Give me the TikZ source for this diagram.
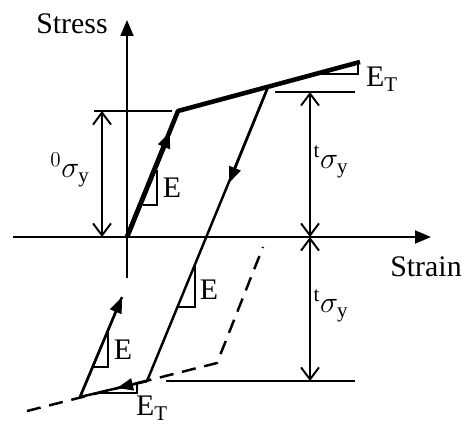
\documentclass[tikz,border=0pt]{standalone}
\usepackage{fontspec}
\setmainfont{Liberation Serif}
\usepackage{tikz}
\usetikzlibrary{arrows.meta}

\begin{document}
\begin{tikzpicture}[
  x=0.02cm,y=-0.02cm,
  every node/.style={font=\fontsize{17}{20}\selectfont,inner sep=1pt},
  axis/.style={line width=1.1pt,-{Triangle[length=3.2mm,width=2.6mm]}},
  curve/.style={line width=2.6pt,line join=round},
  unload/.style={line width=1.4pt,line join=round},
  midtip/.style={-{Triangle[length=3.2mm,width=2.4mm]}},
  dimline/.style={line width=1.1pt,{Straight Barb[length=2.4mm,width=3.6mm]}-{Straight Barb[length=2.4mm,width=3.6mm]}},
  bar/.style={line width=1.1pt},
  slope/.style={line width=0.9pt},
  backpath/.style={line width=1.4pt,dash pattern=on 8pt off 5pt}
]
\useasboundingbox (0,0) rectangle (462,425);

% axes
\coordinate (sBot) at (127,278);
\coordinate (sTop) at (127,20);
\coordinate (eLeft) at (13,237);
\coordinate (eRight) at (431,237);
\draw[axis] (sBot) -- (sTop);
\draw[axis] (eLeft) -- (eRight);
\node (stress) at (72,24) {Stress};
\node (strain) at (426,267) {Strain};

% hardening path
\coordinate (O) at (127,237);
\coordinate (Y0) at (178,111);
\coordinate (P) at (268,87);
\coordinate (H) at (360,62);
\coordinate (U) at (147,381);
\coordinate (L) at (80,397);
\coordinate (R) at (122,297);
\coordinate (upTip) at (170,132);
\coordinate (downTip) at (229,183);
\coordinate (leftTip) at (117,388);
\draw[curve] (O) -- (Y0) -- (H);
\draw[curve,midtip] (O) -- (upTip);
\draw[unload] (P) -- (U) -- (L) -- (R);
\draw[unload,midtip] (P) -- (downTip);
\draw[unload,midtip] (U) -- (leftTip);
\draw[unload,midtip] (L) -- (R);

% mirrored yield path
\coordinate (D0) at (27,411);
\coordinate (D1) at (217,363);
\coordinate (D2) at (263,247);
\draw[backpath] (D0) -- (D1) -- (D2);

% slope marks
\draw[slope] (143,205) -- (157,205) -- (157,170);
\node (eA) at (172,188) {E};
\draw[slope] (178,307) -- (195,307) -- (195,266);
\node (eB) at (209,290) {E};
\draw[slope] (93,367) -- (108,367) -- (108,331);
\node (eC) at (123,350) {E};
\draw[slope] (316,74) -- (358,74) -- (358,63);
\node[anchor=west] (etA) at (364,79) {E$_{\mathrm{T}}$};
\draw[slope] (97,393) -- (137,393) -- (137,384);
\node[anchor=west] (etB) at (134,408) {E$_{\mathrm{T}}$};

% yield stress levels
\coordinate (b0L) at (94,111);
\coordinate (b0R) at (172,111);
\coordinate (b1L) at (275,92);
\coordinate (b1R) at (355,92);
\coordinate (b2L) at (166,381);
\coordinate (b2R) at (355,381);
\draw[bar] (b0L) -- (b0R);
\draw[bar] (b1L) -- (b1R);
\draw[bar] (b2L) -- (b2R);
\coordinate (d0T) at (102,111);
\coordinate (d0B) at (102,237);
\coordinate (d1T) at (310,92);
\coordinate (d1M) at (310,237);
\coordinate (d1B) at (310,381);
\draw[dimline] (d0T) -- (d0B);
\draw[dimline] (d1T) -- (d1M);
\draw[dimline] (d1M) -- (d1B);
\node (sy0) at (70,170) {${}^{0}\sigma_{\mathrm{y}}$};
\node (sy1) at (331,162) {${}^{\mathrm{t}}\sigma_{\mathrm{y}}$};
\node (sy2) at (331,306) {${}^{\mathrm{t}}\sigma_{\mathrm{y}}$};
\end{tikzpicture}
\end{document}
